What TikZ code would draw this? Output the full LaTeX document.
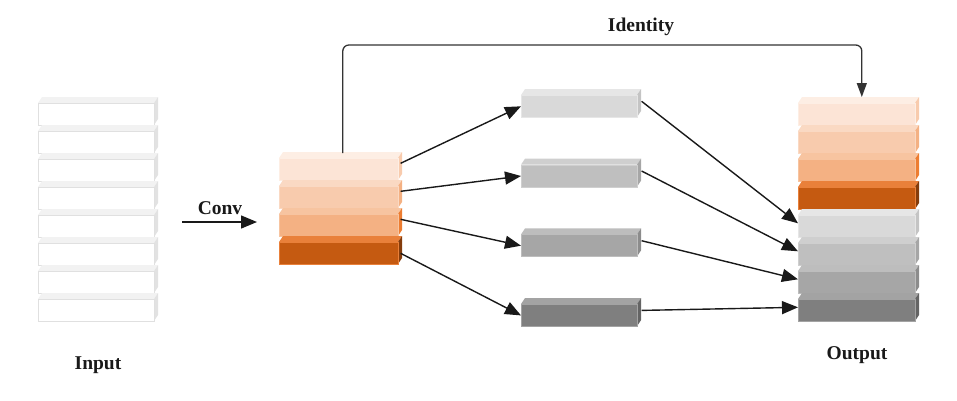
\documentclass[tikz,border=0pt]{standalone}
\usepackage{fontspec}
\setmainfont{Liberation Serif}
\usetikzlibrary{arrows.meta,positioning}

% front / top / side / edge colours of the layers
\definecolor{whfront}{HTML}{FFFFFF}\definecolor{whtop}{HTML}{F2F2F2}\definecolor{whside}{HTML}{E2E2E2}\definecolor{whline}{HTML}{E0E0E0}
\definecolor{or1front}{HTML}{FCE4D6}\definecolor{or1top}{HTML}{FDEEE4}\definecolor{or1side}{HTML}{F8CBAD}\colorlet{or1line}{or1top}
\definecolor{or2front}{HTML}{F8CBAD}\definecolor{or2top}{HTML}{FAD9C3}\definecolor{or2side}{HTML}{F4B183}\colorlet{or2line}{or2top}
\definecolor{or3front}{HTML}{F4B183}\definecolor{or3top}{HTML}{F7C4A0}\definecolor{or3side}{HTML}{ED7D31}\colorlet{or3line}{or3top}
\definecolor{or4front}{HTML}{C55A11}\definecolor{or4top}{HTML}{E9803A}\definecolor{or4side}{HTML}{843C0C}\colorlet{or4line}{or4top}
\definecolor{g1front}{HTML}{D9D9D9}\definecolor{g1top}{HTML}{E6E6E6}\definecolor{g1side}{HTML}{C4C4C4}\colorlet{g1line}{g1top}
\definecolor{g2front}{HTML}{BFBFBF}\definecolor{g2top}{HTML}{CFCFCF}\definecolor{g2side}{HTML}{A6A6A6}\colorlet{g2line}{g2top}
\definecolor{g3front}{HTML}{A6A6A6}\definecolor{g3top}{HTML}{BDBDBD}\definecolor{g3side}{HTML}{8C8C8C}\colorlet{g3line}{g3top}
\definecolor{g4front}{HTML}{7F7F7F}\definecolor{g4top}{HTML}{A3A3A3}\definecolor{g4side}{HTML}{646464}\colorlet{g4line}{g4top}

\tikzset{
  slabfront/.style={anchor=north west,inner sep=0pt,minimum height=22pt,draw=#1,line width=0.6pt},
  lbl/.style={font=\fontsize{19.5}{23}\selectfont\bfseries,text=black!90},
  arr/.style={line width=1.4pt,draw=black!90,-{Triangle[length=16pt,width=13pt]}}
}

% name, x, y, width, colour prefix
\newcommand{\slab}[5]{%
  \fill[#5top] (#2,{#3}) -- ++(4,-6) -- ++(#4,0) -- ++(-4,6) -- cycle;
  \fill[#5side] ({#2+#4},{#3}) -- ++(4,-6) -- ++(0,22) -- ++(-4,6) -- cycle;
  \node[slabfront=#5line,fill=#5front,minimum width=#4pt] (#1) at (#2,{#3}) {};
}

\begin{document}
\begin{tikzpicture}[x=1pt,y=-1pt]
  \useasboundingbox (0,0) rectangle (957,400);

  % input stack
  \foreach \i in {0,...,7}
    {\slab{in\i}{38}{103+28*\i}{116}{wh}}
  \node[lbl] (input) at (98,365) {Input};

  % conv stack
  \foreach \i/\c in {0/or1,1/or2,2/or3,3/or4}
    {\slab{c\i}{279}{158+28*\i}{119}{\c}}
  \coordinate (convA) at (182,222);
  \coordinate (convB) at (257,222);
  \draw[arr] (convA) -- (convB);
  \node[lbl] (conv) at (220,208) {Conv};

  % middle layers
  \foreach \i/\c in {0/g1,1/g2,2/g3,3/g4}
    {\slab{m\i}{521}{95+69.7*\i}{116}{\c}}

  % output stack
  \foreach \i/\c in {0/or1,1/or2,2/or3,3/or4,4/g1,5/g2,6/g3,7/g4}
    {\slab{o\i}{798}{103+28*\i}{117}{\c}}
  \node[lbl] (output) at (857,355) {Output};

  % connections
  \foreach \i/\s in {0/6,1/6,2/6,3/0}
    \draw[arr] ([xshift=2pt,yshift=\s pt]c\i.east) -- (m\i.west);
  \foreach \i/\j in {0/4,1/5,2/6,3/7}
    \draw[arr] ([xshift=4pt,yshift=5pt]m\i.east) -- ([yshift=3pt]o\j.west);

  \draw[arr,draw=black!80,line width=1.3pt,rounded corners=6pt,-{Triangle[length=14pt,width=10pt]}]
    ([xshift=4pt,yshift=5pt]c0.north) -- ++(0,-108) -| ([xshift=5pt,yshift=6pt]o0.north);
  \node[lbl] (identity) at (641,27) {Identity};
\end{tikzpicture}
\end{document}
